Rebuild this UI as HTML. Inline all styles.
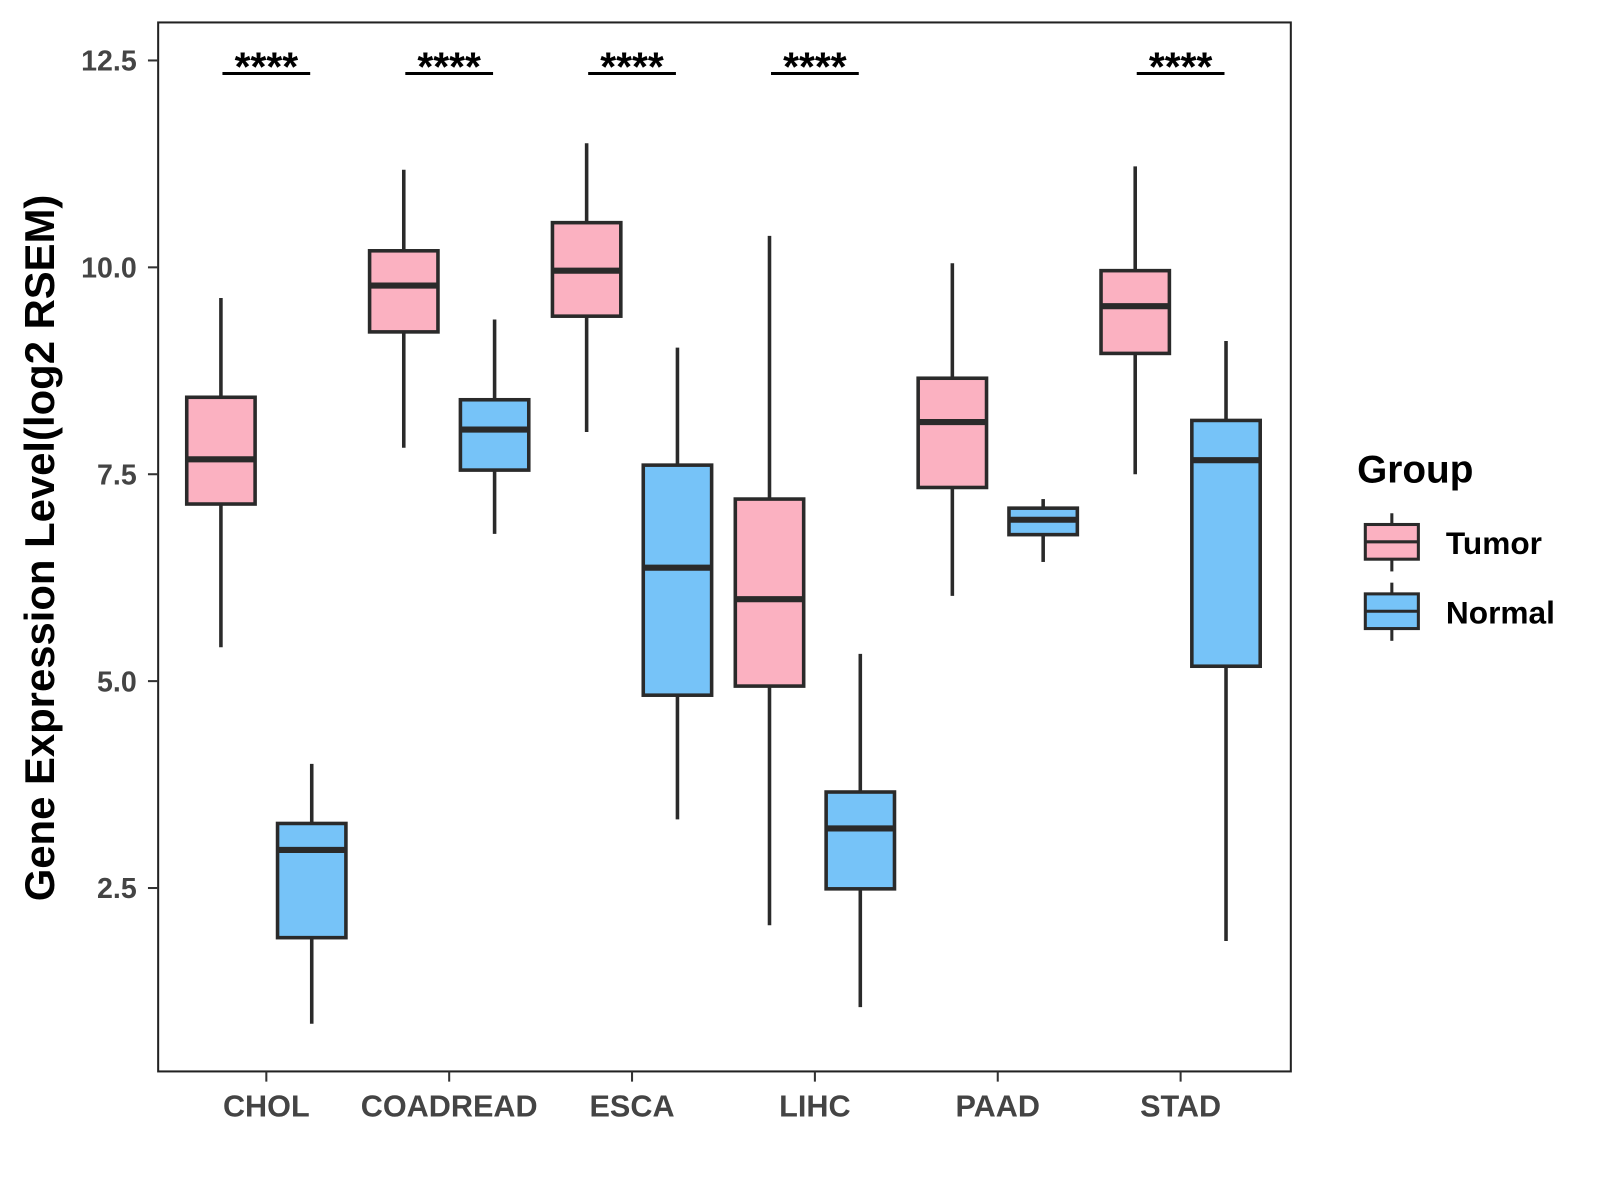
<!DOCTYPE html>
<html><head><meta charset="utf-8"><style>
html,body{margin:0;padding:0;background:#fff;}
svg{display:block;font-family:"Liberation Sans",Arial,sans-serif;}
</style></head><body>
<svg id="chart" width="1600" height="1200" viewBox="0 0 1568 1176">
<rect x="155" y="22" width="1110" height="1028" fill="#fff" stroke="#222" stroke-width="2"/>
<g id="marks"></g>
<g id="axes"></g>
<text x="0" y="0" transform="translate(53,537) rotate(-90)" text-anchor="middle" font-size="41" font-weight="bold" fill="#000">Gene Expression Level(log2 RSEM)</text>
<g>
<text x="1330" y="473" font-size="38" font-weight="bold" fill="#000">Group</text>
<g>
<line x1="1364" y1="503" x2="1364" y2="560" stroke="#2a2a2a" stroke-width="3"/>
<rect x="1338" y="514" width="52" height="34" fill="#FBB1C1" stroke="#2a2a2a" stroke-width="3"/>
<line x1="1338" y1="531" x2="1390" y2="531" stroke="#2a2a2a" stroke-width="3"/>
<text x="1417" y="543" font-size="31" font-weight="bold" fill="#000">Tumor</text>
</g>
<g>
<line x1="1364" y1="571" x2="1364" y2="628" stroke="#2a2a2a" stroke-width="3"/>
<rect x="1338" y="582" width="52" height="34" fill="#76C3F8" stroke="#2a2a2a" stroke-width="3"/>
<line x1="1338" y1="599" x2="1390" y2="599" stroke="#2a2a2a" stroke-width="3"/>
<text x="1417" y="611" font-size="31" font-weight="bold" fill="#000">Normal</text>
</g>
</g>
</svg>
<script>
const categories = ["CHOL","COADREAD","ESCA","LIHC","PAAD","STAD"];
// [min, q1, median, q3, max]
const tumorStats = [
  [5.41,7.14,7.68,8.43,9.63],
  [7.82,9.22,9.78,10.2,11.18],
  [8.01,9.41,9.96,10.54,11.5],
  [2.05,4.94,5.99,7.2,10.38],
  [6.03,7.34,8.13,8.66,10.05],
  [7.5,8.96,9.53,9.96,11.22]
];
const normalStats = [
  [0.86,1.90,2.96,3.28,4.0],
  [6.78,7.55,8.04,8.40,9.37],
  [3.33,4.83,6.37,7.61,9.03],
  [1.06,2.49,3.22,3.66,5.33],
  [6.44,6.77,6.95,7.09,7.2],
  [1.86,5.18,7.67,8.15,9.11]
];
const significance = ["****","****","****","****","","****"];
const yTicks = [2.5,5.0,7.5,10.0,12.5];
const yTickLabels = ["2.5","5.0","7.5","10.0","12.5"];

const NS="http://www.w3.org/2000/svg";
function yScale(v){ return 262 - (v-10)*81.1; }
function xScale(i){ return 261 + i*179.2; }
const marks=document.getElementById('marks');
const axes=document.getElementById('axes');
function mk(tag,attrs,parent){const e=document.createElementNS(NS,tag);for(const k in attrs)e.setAttribute(k,attrs[k]);parent.appendChild(e);return e;}

function drawBox(s,cx,fill,name){
  const g=mk('g',{},marks);
  
  
  const w=67;
  mk('line',{x1:cx,x2:cx,y1:yScale(s[4]),y2:yScale(s[0]),stroke:'#2a2a2a','stroke-width':3.5},g);
  mk('rect',{x:cx-w/2,y:yScale(s[3]),width:w,height:yScale(s[1])-yScale(s[3]),fill:fill,stroke:'#2a2a2a','stroke-width':3.5},g);
  mk('line',{x1:cx-w/2,x2:cx+w/2,y1:yScale(s[2]),y2:yScale(s[2]),stroke:'#2a2a2a','stroke-width':6},g);
}
categories.forEach((c,i)=>{
  const cx=xScale(i);
  drawBox(tumorStats[i],cx-44.5,'#FBB1C1','box-tumor-'+c.toLowerCase());
  drawBox(normalStats[i],cx+44.5,'#76C3F8','box-normal-'+c.toLowerCase());
  if(significance[i]){
    const g=mk('g',{},marks);
    
    
    mk('line',{x1:cx-43,x2:cx+43,y1:72,y2:72,stroke:'#000','stroke-width':3},g);
    const t=mk('text',{x:cx,y:79,'text-anchor':'middle','font-size':40,'font-weight':'bold',fill:'#000'},g);
    t.textContent=significance[i];
  }
  mk('line',{x1:cx,x2:cx,y1:1050,y2:1060,stroke:'#333','stroke-width':2},axes);
  const t=mk('text',{x:cx,y:1094,'text-anchor':'middle','font-size':30,'font-weight':'bold',fill:'#444'},axes);
  
  
  t.textContent=c;
});
yTicks.forEach((v,i)=>{
  const y=yScale(v);
  mk('line',{x1:145,x2:155,y1:y,y2:y,stroke:'#333','stroke-width':2},axes);
  const t=mk('text',{x:134,y:y+10,'text-anchor':'end','font-size':28,'font-weight':'bold',fill:'#444'},axes);
  
  
  t.textContent=yTickLabels[i];
});
</script>
</body></html>
